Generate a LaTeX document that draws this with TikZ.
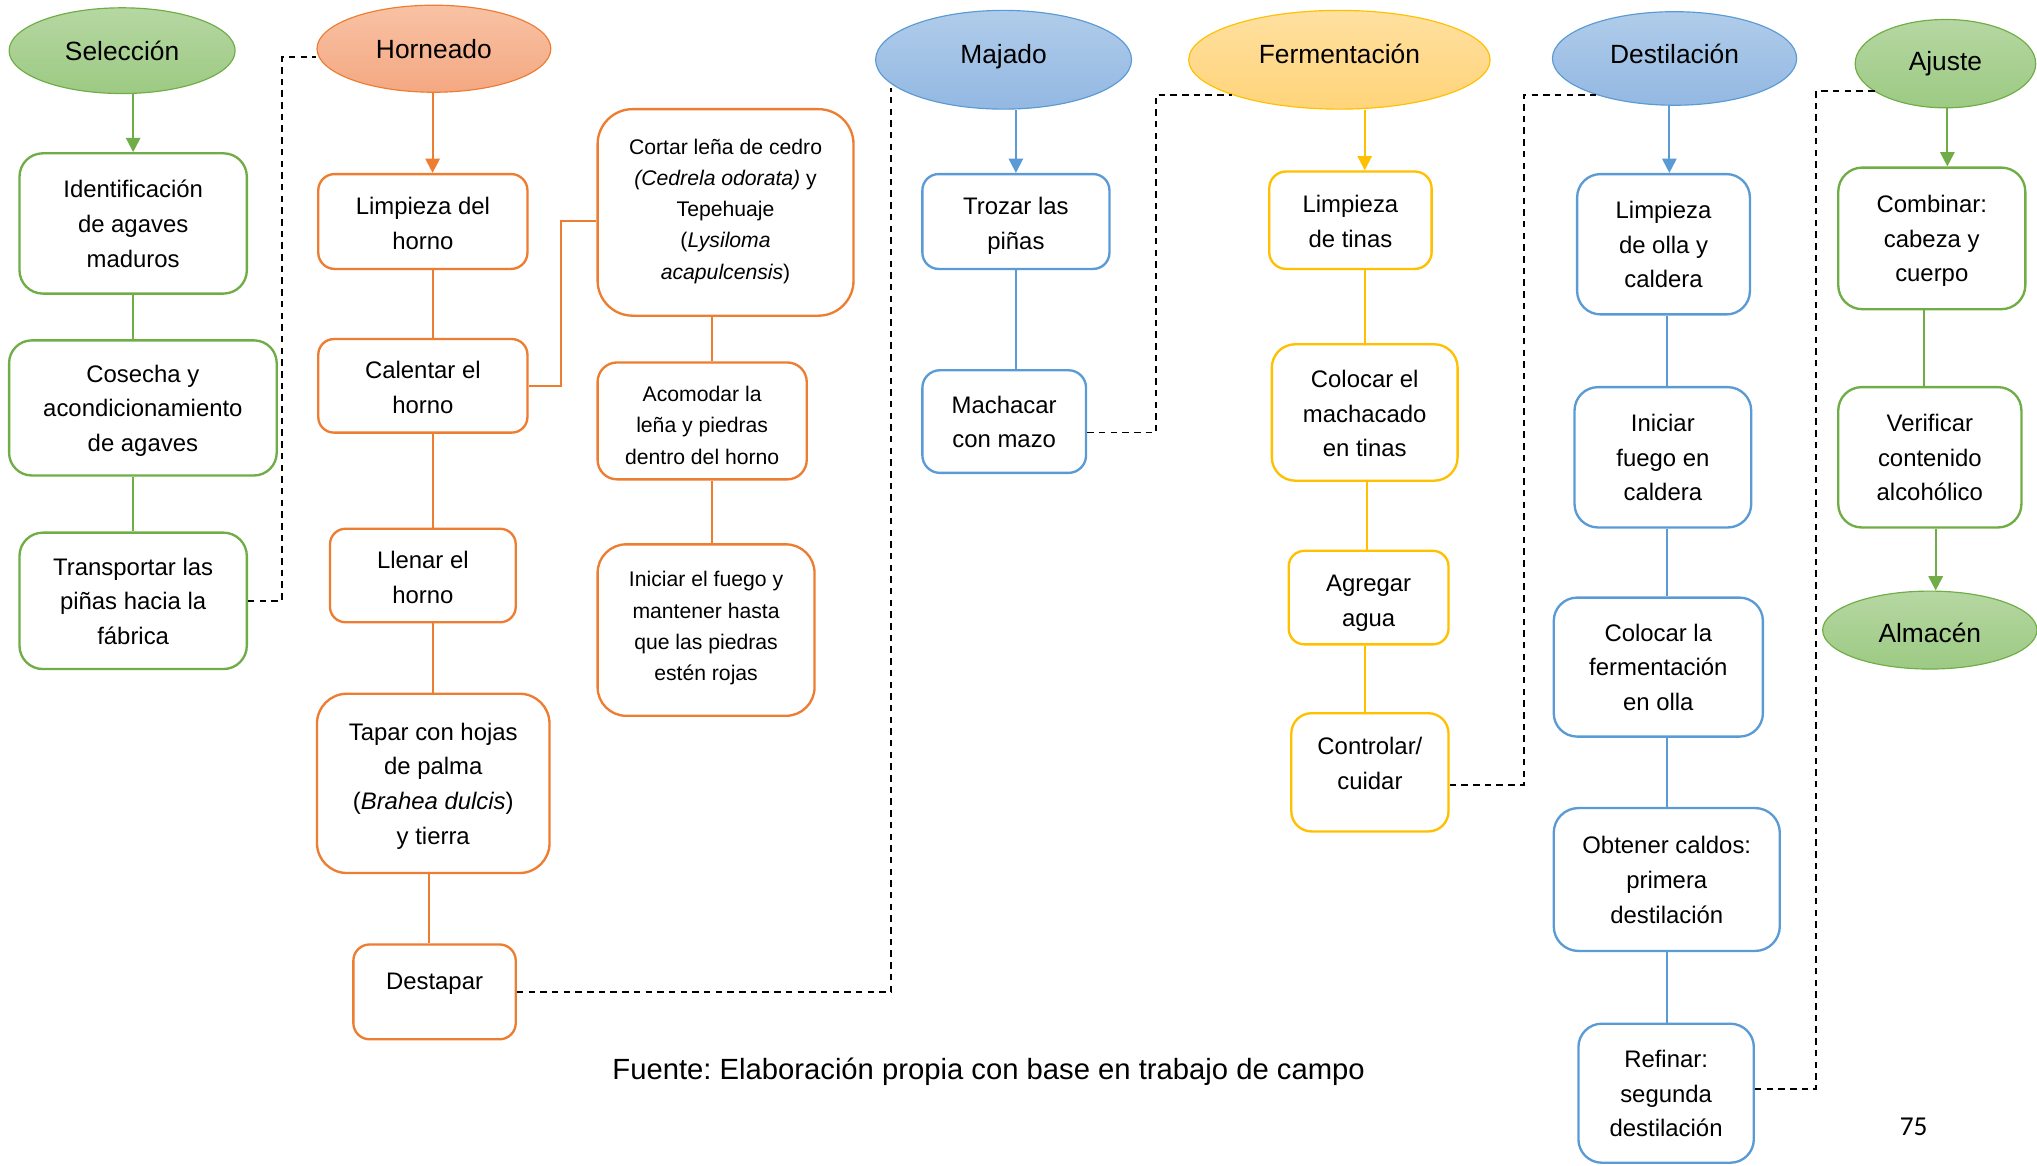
\documentclass[tikz,border=0pt]{standalone}
\usepackage{fontspec}
\setmainfont{Liberation Sans}
\newfontfamily\pagefont{Carlito}
\usetikzlibrary{shapes.geometric,arrows.meta,calc}
\definecolor{cg}{HTML}{70AD47}
\definecolor{co}{HTML}{ED7D31}
\definecolor{cb}{HTML}{5B9BD5}
\definecolor{cy}{HTML}{FFC000}
\definecolor{gtop}{RGB}{182,215,162}
\definecolor{gbot}{RGB}{156,202,131}
\definecolor{otop}{RGB}{248,194,164}
\definecolor{obot}{RGB}{244,168,130}
\definecolor{btop}{RGB}{176,204,234}
\definecolor{bbot}{RGB}{147,184,226}
\definecolor{ytop}{RGB}{255,224,160}
\definecolor{ybot}{RGB}{255,212,122}
\newcommand\boxtext[2][-1.5pt]{\raisebox{#1}[\height][\depth]{\begin{tabular}{@{}c@{}}#2\end{tabular}}}
\newcommand\uptext[2]{\raisebox{#1}[\height][\depth]{#2}}
\frenchspacing
\begin{document}
\begin{tikzpicture}[x=1pt,y=-1pt,
  box/.style={draw, fill=white, line width=1.8pt, align=center, inner sep=0pt,
    font=\fontsize{18.4}{26.7}\selectfont},
  sbox/.style={box, font=\fontsize{16.3}{24}\selectfont},
  sz/.style n args={3}{minimum width=#1pt, minimum height=#2pt, rounded corners=#3pt},
  phase/.style={ellipse, draw, line width=0.9pt, inner sep=0pt,
    font=\fontsize{20.3}{24}\selectfont},
  gph/.style={phase, draw=cg, top color=gtop, bottom color=gbot},
  oph/.style={phase, draw=co, top color=otop, bottom color=obot},
  bph/.style={phase, draw=cb, top color=btop, bottom color=bbot},
  yph/.style={phase, draw=cy, top color=ytop, bottom color=ybot},
  link/.style={line width=1.6pt},
  arr/.style={link, -{Triangle[width=11pt,length=11pt]}},
  dashlink/.style={line width=1.3pt, dash pattern=on 5pt off 4pt, black}
]
\useasboundingbox (0,0) rectangle (1568,897);

% ---------- Selección ----------
\node[gph, minimum width=174pt, minimum height=66pt] (sel) at (94,39) {Selección};
\node[box, draw=cg, sz={175}{108}{18}] (ident) at (102.5,172) {\boxtext{Identificación\\de agaves\\maduros}};
\node[box, draw=cg, sz={206}{104}{17.5}] (cos) at (110,314) {\boxtext{Cosecha y\\acondicionamiento\\de agaves}};
\node[box, draw=cg, sz={175}{105}{18}] (trans) at (102.5,462.5) {\boxtext{Transportar las\\piñas hacia la\\fábrica}};
\draw[arr, cg] (ident.north |- sel.south) -- (ident.north);
\draw[link, cg] (ident.south) -- (ident.south |- cos.north);
\draw[link, cg] (trans.north |- cos.south) -- (trans.north);

% ---------- Horneado ----------
\node[oph, minimum width=180pt, minimum height=67pt] (horn) at (334,37.5) {Horneado};
\node[box, draw=co, sz={161}{73}{12.5}] (limp) at (325.5,170.5) {\boxtext[-2.5pt]{Limpieza del\\horno}};
\node[box, draw=co, sz={161}{72}{12}] (cal) at (325.5,297) {\boxtext[-2.5pt]{Calentar el\\horno}};
\node[box, draw=co, sz={143}{72}{12}] (llen) at (325.5,443) {\boxtext[-2.5pt]{Llenar el\\horno}};
\node[box, draw=co, sz={179}{138}{23}] (tapar) at (333.5,603) {\boxtext{Tapar con hojas\\de palma\\(\textit{Brahea dulcis})\\y tierra}};
\node[box, draw=co, sz={125}{73}{12.5}] (destap) at (334.5,763.5) {\boxtext[7.5pt]{Destapar}};
\node[sbox, draw=co, sz={197}{159}{27}] (cortar) at (558.5,163.5) {\boxtext[1.5pt]{Cortar leña de cedro\\\textit{(Cedrela odorata)} y\\Tepehuaje\\(\textit{Lysiloma}\\\textit{acapulcensis})}};
\node[sbox, draw=co, sz={161}{90}{15}] (acom) at (540.5,324) {\boxtext[-4.5pt]{Acomodar la\\leña y piedras\\dentro del horno}};
\node[sbox, draw=co, sz={167}{132}{22}] (inic) at (543.5,485) {\boxtext[2pt]{Iniciar el fuego y\\mantener hasta\\que las piedras\\estén rojas}};
\draw[arr, co] (horn.south -| 333,0) -- (limp.north -| 333,0);
\draw[link, co] (limp.south -| 333.5,0) -- (cal.north -| 333.5,0);
\draw[link, co] (cal.south -| 333,0) -- (llen.north -| 333,0);
\draw[link, co] (llen.south -| 333,0) -- (tapar.north -| 333,0);
\draw[link, co] (tapar.south -| 330,0) -- (destap.north -| 330,0);
\draw[link, co] (cal.east) -- ++(25,0) |- ([yshift=-6.5pt]cortar.west);
\draw[link, co] ([xshift=7.5pt]acom.north) -- ([xshift=7.5pt]acom.north |- cortar.south);
\draw[link, co] ([xshift=7.5pt]acom.south) -- ([xshift=7.5pt]acom.south |- inic.north);

% ---------- Majado ----------
\node[bph, minimum width=197pt, minimum height=76pt] (maj) at (772.5,46) {\uptext{2.5pt}{Majado}};
\node[box, draw=cb, sz={144}{73}{12.5}] (troz) at (782,170.5) {\boxtext[-3pt]{Trozar las\\piñas}};
\node[box, draw=cb, sz={126}{79}{13.5}] (mach) at (773,324.5) {\boxtext{Machacar\\con mazo}};
\draw[arr, cb] (troz.north |- maj.south) -- (troz.north);
\draw[link, cb] (troz.south) -- (troz.south |- mach.north);

% ---------- Fermentación ----------
\node[yph, minimum width=232pt, minimum height=76pt] (ferm) at (1031,46) {\uptext{4.5pt}{Fermentación}};
\node[box, draw=cy, sz={125}{75}{13}] (limpt) at (1039.5,169.5) {\boxtext[-2pt]{Limpieza\\de tinas}};
\node[box, draw=cy, sz={143}{105}{18}] (coloc) at (1050.5,317.5) {\boxtext[-2pt]{Colocar el\\machacado\\en tinas}};
\node[box, draw=cy, sz={123}{72}{12}] (agreg) at (1053.5,460) {\boxtext[-3.5pt]{Agregar\\agua}};
\node[box, draw=cy, sz={121}{91}{15.5}] (ctrl) at (1054.5,594.5) {\boxtext[5.5pt]{Controlar/\\cuidar}};
\draw[arr, cy] (coloc.north |- ferm.south) -- (coloc.north |- limpt.north);
\draw[link, cy] (coloc.north |- limpt.south) -- (coloc.north);
\draw[link, cy] (coloc.south -| 1052,0) -- (agreg.north -| 1052,0);
\draw[link, cy] (agreg.south -| 1051,0) -- (ctrl.north -| 1051,0);

% ---------- Destilación ----------
\node[bph, minimum width=188pt, minimum height=72pt] (dest) at (1289,45) {\uptext{3.5pt}{Destilación}};
\node[box, draw=cb, sz={133}{108}{18}] (limpo) at (1280.5,188) {\boxtext{Limpieza\\de olla y\\caldera}};
\node[box, draw=cb, sz={136}{108}{18}] (inif) at (1280,352) {\boxtext{Iniciar\\fuego en\\caldera}};
\node[box, draw=cb, sz={161}{107}{18}] (colf) at (1276.5,513.5) {\boxtext{Colocar la\\fermentación\\en olla}};
\node[box, draw=cb, sz={174}{110}{19}] (obt) at (1283,677) {\boxtext{Obtener caldos:\\primera\\destilación}};
\node[box, draw=cb, sz={135}{107}{18}] (refi) at (1282.5,841.5) {\boxtext{Refinar:\\segunda\\destilación}};
\draw[arr, cb] (dest.south -| 1285,0) -- (limpo.north -| 1285,0);
\draw[link, cb] (limpo.south -| obt) -- (inif.north -| obt);
\draw[link, cb] (inif.south -| obt) -- (colf.north -| obt);
\draw[link, cb] (colf.south -| obt) -- (obt.north);
\draw[link, cb] (obt.south) -- (refi.north -| obt);

% ---------- Ajuste ----------
\node[gph, minimum width=139pt, minimum height=68pt] (aj) at (1497.5,49) {Ajuste};
\node[box, draw=cg, sz={144}{109}{18.5}] (comb) at (1487,183.5) {\boxtext{Combinar:\\cabeza y\\cuerpo}};
\node[box, draw=cg, sz={141}{108}{18}] (verif) at (1485.5,352) {\boxtext{Verificar\\contenido\\alcohólico}};
\node[gph, minimum width=165pt, minimum height=60pt] (alm) at (1485.5,485) {\uptext{-2.5pt}{Almacén}};
\draw[arr, cg] (aj.south -| 1499,0) -- (comb.north -| 1499,0);
\draw[link, cg] (comb.south -| 1481,0) -- (verif.north -| 1481,0);
\draw[arr, cg] (verif.south -| 1490,0) -- (alm.north -| 1490,0);

% ---------- dashed links between phases ----------
\coordinate (d1) at (217,44);
\draw[dashlink] (trans.east) -| (d1) -- (d1 -| horn.west);
\coordinate (e2) at (686,68);
\draw[dashlink] (destap.east) -| (e2);
\coordinate (d3) at (890,73);
\coordinate (e3) at (948,73);
\draw[dashlink] ([yshift=-8.5pt]mach.east) -| (d3) -- (e3);
\coordinate (d4) at (1173,73);
\coordinate (e4) at (1230,73);
\draw[dashlink] ([yshift=-9.5pt]ctrl.east) -| (d4) -- (e4);
\coordinate (d5) at (1398,70);
\coordinate (e5) at (1443,70);
\draw[dashlink] ([yshift=3.5pt]refi.east) -| (d5) -- (e5);

% ---------- footer ----------
\node[font=\fontsize{22.5}{27}\selectfont, inner sep=0pt] (src) at (761,825) {Fuente: Elaboración propia con base en trabajo de campo};
\node[font=\pagefont\fontsize{21}{25}\selectfont, inner sep=0pt] (pg) at (1473,867) {75};
\end{tikzpicture}
\end{document}
